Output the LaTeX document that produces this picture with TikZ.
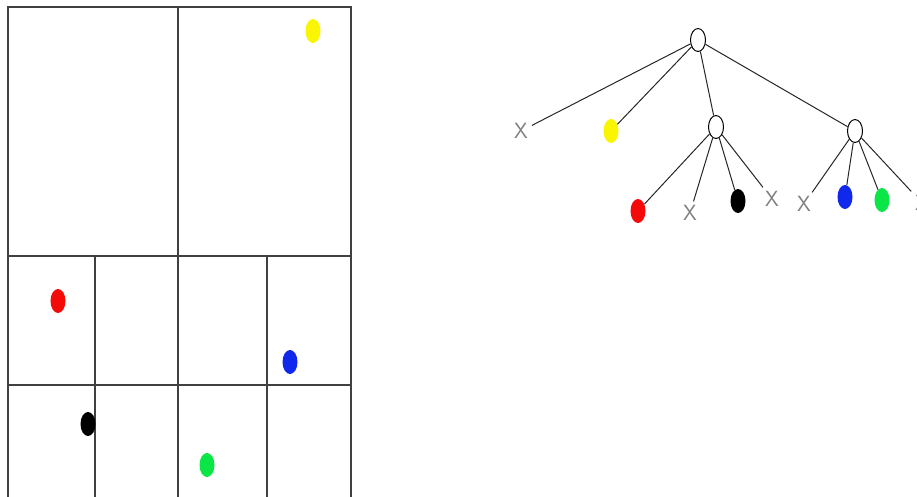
\documentclass[tikz,border=0pt]{standalone}
\usetikzlibrary{shapes.geometric}
\definecolor{dotgreen}{RGB}{10,230,70}
\definecolor{dotblue}{RGB}{15,40,235}
\definecolor{dotyellow}{RGB}{250,245,0}
\definecolor{dotred}{RGB}{245,10,10}
\begin{document}
\begin{tikzpicture}[x=1pt,y=-1pt,
  gridline/.style={draw=black!75,line width=1.1pt},
  dot/.style={ellipse,inner sep=0pt,minimum width=15pt,minimum height=24pt},
  inner/.style={ellipse,draw,line width=1pt,fill=white,inner sep=0pt,minimum width=15pt,minimum height=23pt},
  leaf/.style={inner sep=1pt,outer sep=3pt,text=black!50,font=\sffamily\fontsize{22}{22}\selectfont},
  edge/.style={draw=black!85,line width=1pt}]
\useasboundingbox (0,0) rectangle (917,497);
\clip (0,0) rectangle (917,497);
% grid
\draw[gridline] (8,7) rectangle (351,520);
\draw[gridline] (178,7) -- (178,520);
\draw[gridline] (8,256) -- (351,256);
\draw[gridline] (8,385) -- (351,385);
\draw[gridline] (95,256) -- (95,520);
\draw[gridline] (267,256) -- (267,520);
\node[dot,fill=dotyellow] (gy) at (313,31) {};
\node[dot,fill=dotred] (gr) at (58,301) {};
\node[dot,fill=dotblue] (gb) at (290,362) {};
\node[dot,fill=black] (gk) at (88,424) {};
\node[dot,fill=dotgreen] (gg) at (207,465) {};
% tree
\node[inner] (root) at (698,40) {};
\node[leaf] (x1) at (521,131) {X};
\node[dot,fill=dotyellow] (ty) at (611,131) {};
\node[inner] (n2) at (716,127) {};
\node[inner] (n3) at (855,131) {};
\node[dot,fill=dotred] (tr) at (638,211) {};
\node[leaf] (x2) at (690,213) {X};
\node[dot,fill=black] (tk) at (738,201) {};
\node[leaf] (x3) at (772,199) {X};
\node[leaf] (x4) at (804,204) {X};
\node[dot,fill=dotblue] (tb) at (845,197) {};
\node[dot,fill=dotgreen] (tg) at (882,200) {};
\node[leaf] (x5) at (922,203) {X};
\draw[edge] (root) -- (x1);
\draw[edge] (root) -- (ty);
\draw[edge] (root) -- (n2);
\draw[edge] (root) -- (n3);
\draw[edge] (n2) -- (tr);
\draw[edge] (n2) -- (x2);
\draw[edge] (n2) -- (tk);
\draw[edge] (n2) -- (x3);
\draw[edge] (n3) -- (x4);
\draw[edge] (n3) -- (tb);
\draw[edge] (n3) -- (tg);
\draw[edge] (n3) -- (x5);
\end{tikzpicture}
\end{document}
